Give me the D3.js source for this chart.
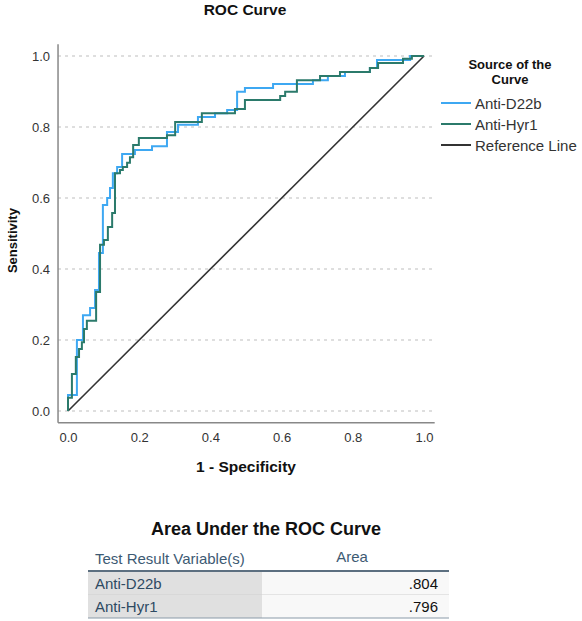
<!DOCTYPE html>
<html><head><meta charset="utf-8">
<script src="https://cdn.jsdelivr.net/npm/d3@7"></script>
<style>
body{margin:0;background:#fff;font-family:"Liberation Sans",Arial,sans-serif;}
svg{display:block;}
</style></head>
<body>
<svg id="c" width="582" height="621"></svg>
<script>
// ---- data ----
const axisTicks = [0.0, 0.2, 0.4, 0.6, 0.8, 1.0];
const seriesNames = ["Anti-D22b", "Anti-Hyr1", "Reference Line"];
const seriesColors = ["#3ea8f2", "#2b7a6b", "#333333"];

// step corners (1 - specificity, sensitivity)
const d22bFpr = [0,0.025,0.042,0.062,0.076,0.087,0.098,0.110,0.118,0.126,0.138,0.152,0.188,0.236,0.278,0.309,0.365,0.413,0.447,0.475,0.497,0.576,0.688,0.730,0.778,0.848,0.868,0.961,1];
const d22bTpr = [0,0.045,0.200,0.270,0.290,0.341,0.445,0.580,0.600,0.628,0.670,0.687,0.724,0.735,0.746,0.786,0.806,0.828,0.839,0.848,0.899,0.910,0.921,0.932,0.944,0.955,0.966,0.989,1];

const hyr1Fpr = [0,0.011,0.022,0.031,0.039,0.045,0.053,0.079,0.090,0.101,0.112,0.124,0.132,0.146,0.154,0.166,0.174,0.183,0.199,0.278,0.301,0.376,0.469,0.497,0.596,0.610,0.643,0.708,0.764,0.848,0.871,0.941,0.966,1];
const hyr1Tpr = [0,0.037,0.104,0.152,0.175,0.194,0.231,0.254,0.335,0.468,0.482,0.518,0.558,0.670,0.679,0.687,0.699,0.715,0.749,0.769,0.777,0.814,0.839,0.851,0.876,0.887,0.899,0.932,0.944,0.955,0.966,0.980,0.992,1];

const refFpr = [0, 1];
const refTpr = [0, 1];

const aucLabels = ["Anti-D22b", "Anti-Hyr1"];
const aucValues = [".804", ".796"];

// ---- layout ----
const svg = d3.select("#c");
const x = d3.scaleLinear().domain([0,1]).range([68,424]);
const y = d3.scaleLinear().domain([0,1]).range([411,56]);
const font = '"Liberation Sans", Arial, sans-serif';

svg.append("text").attr("x",245).attr("y",15).attr("text-anchor","middle")
  .attr("font-family",font).attr("font-weight","bold").attr("font-size",15.5).attr("fill","#111")
  .text("ROC Curve");

// gridlines
svg.append("g").selectAll("line").data(axisTicks).join("line")
  .attr("x1",x(-0.028)).attr("x2",x(1.03))
  .attr("y1",d=>y(d)).attr("y2",d=>y(d))
  .attr("stroke","#bdbdbd").attr("stroke-width",1.2).attr("stroke-dasharray","3,4");

// axes
const fmt = d3.format(".1f");
const gx = svg.append("g").attr("transform",`translate(0,${y(-0.033)})`)
  .call(d3.axisBottom(x).tickValues(axisTicks).tickFormat(fmt).tickSize(0).tickPadding(10));
const gy = svg.append("g").attr("transform",`translate(${x(-0.028)},0)`)
  .call(d3.axisLeft(y).tickValues(axisTicks).tickFormat(fmt).tickSize(0).tickPadding(8));
[gx,gy].forEach(g=>{
  g.select(".domain").remove();
  g.selectAll("text").attr("font-family",font).attr("font-size",13).attr("fill","#333");
});
svg.append("line").attr("x1",x(-0.028)).attr("x2",x(-0.028)).attr("y1",y(1.033)).attr("y2",y(-0.033))
  .attr("stroke","#888").attr("stroke-width",1.5);
svg.append("line").attr("x1",x(-0.028)).attr("x2",x(1.03)).attr("y1",y(-0.033)).attr("y2",y(-0.033))
  .attr("stroke","#888").attr("stroke-width",1.5);

svg.append("text").attr("transform",`translate(17,${y(0.48)}) rotate(-90)`).attr("text-anchor","middle")
  .attr("font-family",font).attr("font-weight","bold").attr("font-size",13).attr("fill","#111")
  .text("Sensitivity");
svg.append("text").attr("x",x(0.5)).attr("y",472).attr("text-anchor","middle")
  .attr("font-family",font).attr("font-weight","bold").attr("font-size",15.5).attr("fill","#111")
  .text("1 - Specificity");

// curves
const series = [
  {fpr:refFpr, tpr:refTpr, color:seriesColors[2], w:1.6, curve:d3.curveLinear},
  {fpr:d22bFpr, tpr:d22bTpr, color:seriesColors[0], w:2, curve:d3.curveStepBefore},
  {fpr:hyr1Fpr, tpr:hyr1Tpr, color:seriesColors[1], w:2, curve:d3.curveStepBefore}
];
series.forEach(s=>{
  const pts = s.fpr.map((f,i)=>[f,s.tpr[i]]);
  svg.append("path").datum(pts)
    .attr("d",d3.line().x(d=>x(d[0])).y(d=>y(d[1])).curve(s.curve))
    .attr("fill","none").attr("stroke",s.color).attr("stroke-width",s.w);
});

// legend
const lg = svg.append("g");
lg.append("text").attr("x",510).attr("y",69).attr("text-anchor","middle")
  .attr("font-family",font).attr("font-weight","bold").attr("font-size",13).attr("fill","#111")
  .text("Source of the");
lg.append("text").attr("x",510).attr("y",84).attr("text-anchor","middle")
  .attr("font-family",font).attr("font-weight","bold").attr("font-size",13).attr("fill","#111")
  .text("Curve");
seriesNames.forEach((n,i)=>{
  const yy = 103 + i*21;
  lg.append("line").attr("x1",441).attr("x2",471).attr("y1",yy).attr("y2",yy)
    .attr("stroke",seriesColors[i]).attr("stroke-width",2);
  lg.append("text").attr("x",475).attr("y",yy+5.5)
    .attr("font-family",font).attr("font-size",15).attr("fill","#333").text(n);
});

// AUC table
const tb = svg.append("g");
tb.append("text").attr("x",266).attr("y",535).attr("text-anchor","middle")
  .attr("font-family",font).attr("font-weight","bold").attr("font-size",18).attr("fill","#111")
  .text("Area Under the ROC Curve");
const tL = 88, tM = 262, tR = 449;
tb.append("text").attr("x",95).attr("y",564).attr("font-family",font).attr("font-size",15)
  .attr("fill","#3d5a73").text("Test Result Variable(s)");
tb.append("text").attr("x",352).attr("y",562).attr("text-anchor","middle").attr("font-family",font).attr("font-size",15)
  .attr("fill","#3d5a73").text("Area");
const rowH = 23.5, row0 = 571;
aucLabels.forEach((l,i)=>{
  const ry = row0 + i*rowH;
  tb.append("rect").attr("x",tL).attr("y",ry).attr("width",tM-tL).attr("height",rowH).attr("fill","#e0e0e0");
  tb.append("rect").attr("x",tM).attr("y",ry).attr("width",tR-tM).attr("height",rowH).attr("fill","#f8f8f8");
  tb.append("line").attr("x1",tL).attr("x2",tR).attr("y1",ry+rowH).attr("y2",ry+rowH)
    .attr("stroke",i===aucLabels.length-1?"#8a9aa8":"#d0d0d0").attr("stroke-width",1);
  tb.append("text").attr("x",95).attr("y",ry+17.5).attr("font-family",font).attr("font-size",15)
    .attr("fill","#2e4a63").text(l);
  tb.append("text").attr("x",438).attr("y",ry+17.5).attr("text-anchor","end").attr("font-family",font).attr("font-size",15)
    .attr("fill","#111").text(aucValues[i]);
});
tb.append("line").attr("x1",tL).attr("x2",tR).attr("y1",row0).attr("y2",row0)
  .attr("stroke","#5c6f80").attr("stroke-width",2);
</script>
</body></html>
